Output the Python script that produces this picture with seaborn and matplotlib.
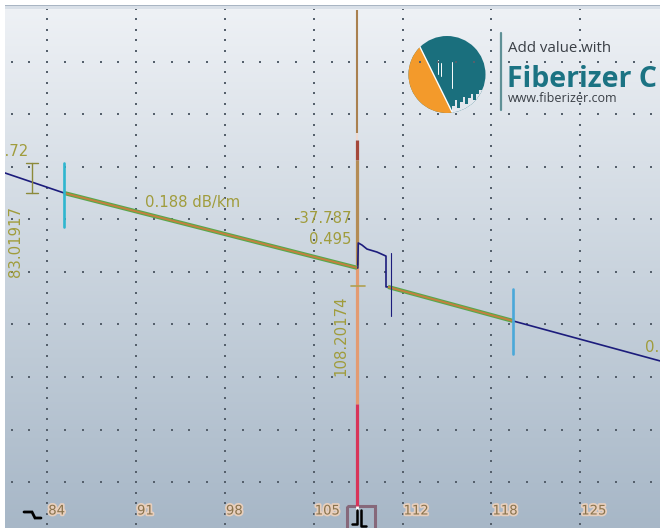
import numpy as np
import pandas as pd
import matplotlib
matplotlib.use("Agg")
import matplotlib.pyplot as plt
import matplotlib.patheffects as pe
import matplotlib.transforms as mtransforms
from matplotlib.colors import LinearSegmentedColormap
from matplotlib.patches import Circle, Polygon, Rectangle
import seaborn as sns

sns.set_theme(style="white")
plt.rcParams["font.family"] = ["DejaVu Sans"]

# ---- distance axis (km) -------------------------------------------------
x_ticks_km = [84.20, 91.08, 97.97, 104.85, 111.73, 118.62, 125.50]
x_tick_labels = ["84", "91", "98", "105", "112", "118", "125"]
x_range_km = [80.926, 131.681]

# ---- level axis (dB) ----------------------------------------------------
y_grid_db = [6, 9, 12, 15, 18, 21, 24, 27, 30]
y_range_db = [3.388, 32.995]

# ---- measured trace -----------------------------------------------------
trace_km = [80.93, 85.50, 108.20174, 108.26, 108.30, 108.589, 108.977,
            109.752, 110.449, 110.449, 110.604, 120.29, 131.68]
trace_db = [23.64, 22.50, 18.23, 18.22, 19.65, 19.53, 19.30,
            19.13, 18.90, 17.14, 17.14, 15.20, 12.92]

# ---- section fits and event ---------------------------------------------
section_slope = 0.188          # dB/km
section1_km = [85.50, 108.20174]
section1_start_db = 22.50
section2_km = [110.604, 120.29]
section2_db = [17.14, 15.20]

event_km = 108.20174
event_reflectance = -37.787
event_loss = 0.495
event_cross_db = 17.21

cursor_a_km = 83.01917
cursor_a_db = [24.21, 22.50]    # I-bar marker span
cursor_a_value = "0.72"

marker1_km, marker1_db = 85.50, [24.21, 20.56]
marker2_km, marker2_db = 120.29, [17.05, 13.29]
dead_zone_km, dead_zone_db = 110.836, [19.07, 15.47]

next_slope_text = "0.203 dB/km"

# colours
TRACE = "#1c1c7c"
OLIVE = "#a09c3c"
TICK = "#8a734c"
DOT = "#55606c"

# ---- figure --------------------------------------------------------------
W, H = 660, 528
fig = plt.figure(figsize=(W / 100, H / 100), dpi=100)
fig.patch.set_facecolor("white")
rect = [5 / W, 0, (W - 5) / W, (H - 9) / H]

# gradient backdrop
bg = fig.add_axes(rect, zorder=0)
cmap = LinearSegmentedColormap.from_list("bg", ["#eef1f5", "#cad4de", "#a7b7c7"])
bg.imshow(np.linspace(0, 1, 256)[:, None], aspect="auto", cmap=cmap,
          extent=[0, 1, 0, 1], origin="upper")
bg.axis("off")

# frame border along the top edge
fig.add_artist(Rectangle((5 / W, 1 - 6.5 / H), (W - 5) / W, 2 / H,
                         transform=fig.transFigure, color="#a9b5c3", lw=0))
fig.add_artist(Rectangle((5 / W, 1 - 9 / H), (W - 5) / W, 2.5 / H,
                         transform=fig.transFigure, color="#d9e0e8", lw=0))

# decoration layer in pixel units (logo, toolbar glyphs)
deco = fig.add_axes(rect, zorder=1)
deco.set_xlim(5, W)
deco.set_ylim(H, 9)
deco.axis("off")

cx, cy, r = 447, 74.5, 38.5
disc = Circle((cx, cy), r, color="#1a6f7d", lw=0)
deco.add_patch(disc)
ang = np.radians(np.linspace(82.4, 225.5, 60))
orange = Polygon(np.c_[cx + r * np.cos(ang), cy + r * np.sin(ang)],
                 closed=True, color="#f39a2b", lw=0)
deco.add_patch(orange)
deco.plot([420, 452], [47, 112], color="white", lw=1.0)
drip = Polygon([(452, 125), (452, 106), (455, 106), (455, 100), (457, 100),
                (457, 108), (460, 108), (460, 102), (463, 102), (463, 97),
                (465, 97), (465, 104), (468, 104), (468, 98), (471, 98),
                (471, 94), (473, 94), (473, 100), (476, 100), (476, 94),
                (479, 94), (479, 90), (482, 90), (482, 95), (490, 95),
                (490, 125)], closed=True, color="#e2e7ed", lw=0)
deco.add_patch(drip)
drip.set_clip_path(disc)
for x0, y0, y1 in [(438, 60, 74), (440.5, 63, 76), (452, 62, 88)]:
    deco.plot([x0, x0], [y0, y1], color="white", lw=0.7)
deco.plot([501, 501], [33, 110], color="#5f9096", lw=1.6)
deco.text(508, 49, "Add value with", fontsize=10.8, color="#3a3f46",
          family=["Open Sans", "DejaVu Sans"], va="center", ha="left")
deco.text(507, 87, "Fiberizer C", fontsize=20.5, fontweight="bold",
          color="#1b7383", family=["Open Sans", "DejaVu Sans"],
          va="baseline", ha="left", clip_on=False)
deco.text(508, 99, "www.fiberizer.com", fontsize=9, color="#3a3f46",
          family=["Open Sans", "DejaVu Sans"], va="center", ha="left")

# toolbar glyphs along the bottom
deco.plot([24, 32, 35, 41], [512, 512, 518, 518], color="black", lw=2.0,
          solid_joinstyle="miter")
deco.add_patch(Rectangle((347, 506), 28, 30, fill=False,
                         edgecolor="#86687a", lw=2.2, clip_on=False))
deco.plot([357, 357], [505, 510], color="white", lw=2.0)
deco.plot([352, 356.5, 356.5], [524, 524, 510], color="black", lw=1.8)
deco.plot([360.5, 360.5, 366], [510, 526, 526], color="black", lw=1.8)

# ---- main trace axes ----------------------------------------------------
ax = fig.add_axes(rect, zorder=2)
ax.set_facecolor("none")

# dotted grid: each major line carries five dots per division
step_db = 3 / 5
minor_db = 6 + step_db * np.arange(-4, 46)
step_km = (x_ticks_km[-1] - x_ticks_km[0]) / 6 / 5
minor_km = x_ticks_km[0] + step_km * np.arange(-15, 40)
for xk in x_ticks_km:
    ax.scatter(np.full_like(minor_db, xk), minor_db, s=1.3, marker="s",
               color=DOT, lw=0, zorder=1)
for yd in y_grid_db:
    ax.scatter(minor_km, np.full_like(minor_km, yd, dtype=float), s=1.3,
               marker="s", color=DOT, lw=0, zorder=1)

# event marker line (stacked colour bands)
band_edges = [32.94, 25.92, 25.52, 24.38, 18.39, 10.46, 4.67]
band_colors = ["#a9804f", "#efd9d0", "#a4473a", "#b48c55", "#e39b72", "#d83459"]
band_widths = [1.5, 1.5, 2.3, 2.3, 2.3, 2.3]
for i, c in enumerate(band_colors):
    ax.plot([event_km, event_km], band_edges[i:i + 2], color=c,
            lw=band_widths[i], solid_capstyle="butt", zorder=3)

# raw trace
df = pd.DataFrame({"km": trace_km, "db": trace_db})
sns.lineplot(data=df, x="km", y="db", sort=False, estimator=None,
             color=TRACE, lw=1.2, ax=ax, zorder=4)

# section fits
s1_db = [section1_start_db,
         section1_start_db - section_slope * (section1_km[1] - section1_km[0])]
for kms, dbs in [(section1_km, s1_db), (section2_km, section2_db)]:
    ax.plot(kms, dbs, color="#58a84c", lw=3.0, zorder=5,
            solid_capstyle="butt")
    ax.plot(kms, dbs, color="#c4803e", lw=1.4, zorder=6,
            solid_capstyle="butt")

# markers
ax.plot([marker1_km] * 2, marker1_db, color="#2fb6cf", lw=1.9, zorder=7)
ax.plot([marker2_km] * 2, marker2_db, color="#4aa8d9", lw=1.9, zorder=7)
ax.plot([dead_zone_km] * 2, dead_zone_db, color=TRACE, lw=0.8, zorder=7)

# cursor A I-bar
ax.plot([cursor_a_km] * 2, cursor_a_db, color="#8c8a3a", lw=1.0, zorder=7)
for yy in cursor_a_db:
    ax.plot([cursor_a_km - 0.45, cursor_a_km + 0.45], [yy, yy],
            color="#8c8a3a", lw=1.0, zorder=7)
# event cross
ax.plot([event_km - 0.5, event_km + 0.6], [event_cross_db] * 2,
        color="#b0a050", lw=1.2, zorder=8)

# labels
txt = dict(color=OLIVE, fontsize=10.7, zorder=9, clip_on=True)
ax.annotate(f"{section_slope:.3f} dB/km", xy=(91.774, 21.93), va="center",
            ha="left", **txt)
ax.annotate(f"{event_reflectance:.3f}", xy=(event_km, 21.04),
            xytext=(-5, 0), textcoords="offset pixels", va="center",
            ha="right", **txt)
ax.annotate(f"{event_loss:.3f}", xy=(event_km, 19.87), xytext=(-5, 0),
            textcoords="offset pixels", va="center", ha="right", **txt)
ax.annotate(f"{event_km:.5f}", xy=(event_km, 14.34), xytext=(-9, 0),
            textcoords="offset pixels", va="center", ha="right",
            rotation=90, **txt)
ax.annotate(f"{cursor_a_km:.5f}", xy=(cursor_a_km, 19.74), xytext=(-9, 0),
            textcoords="offset pixels", va="center", ha="right",
            rotation=90, **txt)
ax.annotate(cursor_a_value, xy=(cursor_a_km, 24.84), xytext=(-4, 0),
            textcoords="offset pixels", va="center", ha="right", **txt)
ax.annotate(next_slope_text, xy=(130.52, 13.66), va="center", ha="left",
            **txt)

# distance tick labels inside the plot
blend = mtransforms.blended_transform_factory(ax.transData, ax.transAxes)
for km, lab in zip(x_ticks_km, x_tick_labels):
    ax.annotate(lab, xy=(km, 0), xycoords=blend, xytext=(1, 17),
                textcoords="offset pixels", ha="left", va="center",
                fontsize=9.5, color=TICK, zorder=9,
                path_effects=[pe.withStroke(linewidth=2.5,
                                            foreground="#e8cfbd")])

ax.set_xlim(*x_range_km)
ax.set_ylim(*y_range_db)
ax.set_xlabel("")
ax.set_ylabel("")
ax.set_xticks([])
ax.set_yticks([])
for s in ax.spines.values():
    s.set_visible(False)

fig.savefig("out.png", dpi=100)
